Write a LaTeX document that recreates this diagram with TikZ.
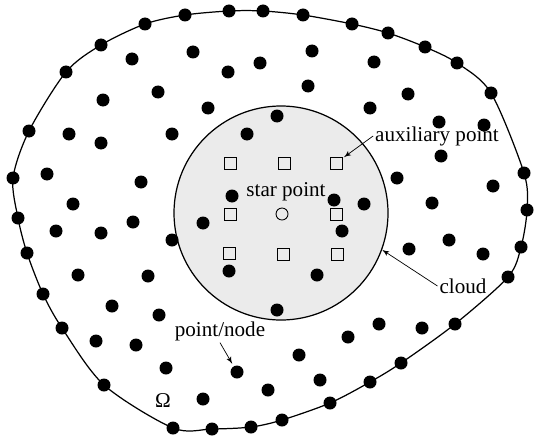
\documentclass[tikz,border=0pt]{standalone}
\usepackage{fontspec}
\setmainfont{Liberation Serif}
\usetikzlibrary{arrows}
\usetikzlibrary{positioning}
\tikzset{dot/.style = {circle, fill, inner sep=0pt, minimum size=2.6mm},
         auxbox/.style = {draw, inner sep=0pt, minimum size=2.4mm, line width=0.5pt},
         starpt/.style = {circle, draw, inner sep=0pt, minimum size=2.4mm, line width=0.5pt},
         lbl/.style = {font=\fontsize{12}{14}\selectfont, inner sep=1pt}}
\definecolor{cloudgray}{gray}{0.92}

\begin{document}
\begin{tikzpicture}[x=0.2mm, y=-0.2mm]
    \useasboundingbox (0,0) rectangle (535,438);

    % domain boundary
    \draw [line width=0.7pt] plot [smooth cycle] coordinates {
        (229,11) (263,11) (303,15) (352,24) (388,33) (425,47) (457,63)
        (491,93) (524,173) (527,210) (521,247) (508,277) (455,324)
        (401,363) (370,382) (330,403) (282,420) (251,427) (212,429)
        (173,428) (104,385) (62,328) (43,294) (27,253) (18,218)
        (13,178) (29,131) (66,72) (101,45) (145,24) (185,15)};

    % cloud
    \node [circle, draw, fill=cloudgray, line width=0.7pt, inner sep=0pt,
           minimum size=42.8mm] (cloud) at (281,213) {};

    % boundary points
    \foreach \p in {(229,11), (263,11), (303,15), (352,24), (388,33), (425,47),
                    (457,63), (491,93), (524,173), (527,210), (521,247),
                    (508,277), (455,324), (401,363), (370,382), (330,403),
                    (282,420), (251,427), (212,429), (173,428), (104,385),
                    (62,328), (43,294), (27,253), (18,218), (13,178),
                    (29,131), (66,72), (101,45), (145,24), (185,15)}
        \fill \p circle (1.3mm);

    % interior points
    \foreach \p in {(193,52), (132,59), (228,72), (260,63), (158,92), (103,100),
                    (208,108), (69,134), (101,143), (172,134), (247,134),
                    (47,174), (141,182), (73,204), (232,196), (133,222),
                    (203,223), (312,51), (374,62), (308,86), (408,94),
                    (370,108), (277,116), (439,122), (484,125), (441,156),
                    (397,178), (493,186), (432,203), (364,204), (334,200),
                    (56,231), (101,233), (172,240), (229,271), (78,275),
                    (148,276), (112,306), (159,315), (96,341), (136,345),
                    (166,368), (203,399), (268,390), (342,231), (409,249),
                    (449,240), (483,254), (317,275), (277,310), (379,324),
                    (422,328), (348,337), (299,355), (320,380)}
        \fill \p circle (1.3mm);
    \node [dot] (pt) at (237,372) {};

    % auxiliary points and star point
    \foreach \p [count=\i] in {(230,163), (284,163), (336,163), (230,214),
                               (336,214), (229,253), (283,254), (337,254)}
        \node [auxbox] (aux\i) at \p {};
    \node [starpt] (star) at (282,214) {};

    % labels
    \node [lbl] (starlabel) at (286,192) {star point};
    \node [lbl] (auxlabel) at (437,136) {auxiliary point};
    \node [lbl] (cloudlabel) at (463,286) {cloud};
    \node [lbl] (ptlabel) at (220,331) {point/node};
    \node [lbl] (omega) at (163,401) {Ω};

    \draw [-latex', thin, shorten >=1pt] (auxlabel.west) -- (aux3);
    \draw [-latex', thin] (cloudlabel.west) -- (cloud.-20);
    \draw [-latex', thin, shorten >=1.5pt] (ptlabel.south) -- (pt);
\end{tikzpicture}
\end{document}
